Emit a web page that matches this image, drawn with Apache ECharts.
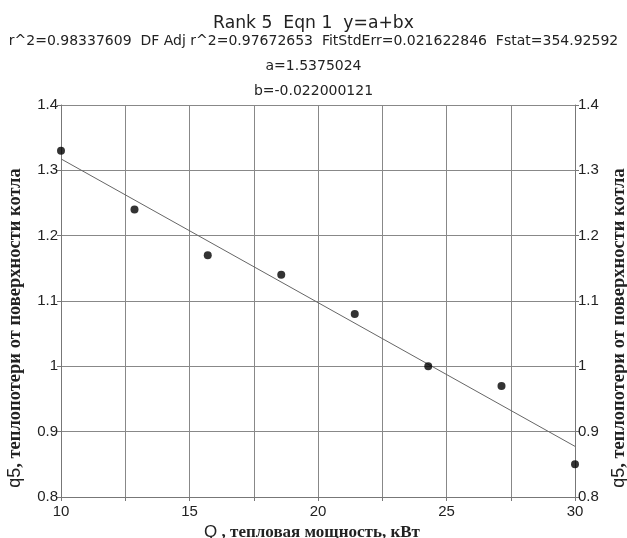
<!DOCTYPE html>
<html>
<head>
<meta charset="utf-8">
<script src="https://cdn.jsdelivr.net/npm/echarts@6/dist/echarts.min.js"></script>
<style>
  html, body { margin: 0; padding: 0; background: #fff; }
  #chart { width: 627px; height: 538px; }
</style>
</head>
<body>
<div id="chart"></div>
<script>
// measured points
var powerKW = [10, 12.86, 15.71, 18.57, 21.43, 24.29, 27.14, 30];
var heatLossQ5 = [1.33, 1.24, 1.17, 1.14, 1.08, 1.00, 0.97, 0.85];
// fitted line y=a+bx, end points
var fitX = [10, 30];
var fitY = [1.3175, 0.8775];
var titleLines = [
  "Rank 5  Eqn 1  y=a+bx",
  "r^2=0.98337609  DF Adj r^2=0.97672653  FitStdErr=0.021622846  Fstat=354.92592",
  "a=1.5375024",
  "b=-0.022000121"
];

var chart = echarts.init(document.getElementById("chart"));

var scatterData = powerKW.map(function (x, i) { return [x, heatLossQ5[i]]; });
var fitData = fitX.map(function (x, i) { return [x, fitY[i]]; });

var xNameRich = {
  q: { fontFamily: "Liberation Sans", fontSize: 17, color: "#222" },
  t: { fontFamily: "Liberation Serif", fontWeight: "bold", fontSize: 17, color: "#222" }
};
var yNameRich = {
  q: { fontFamily: "Liberation Sans", fontSize: 18, color: "#222" },
  t: { fontFamily: "Liberation Serif", fontWeight: "bold", fontSize: 18.5, color: "#222" }
};

var yAxisBase = {
  type: "value",
  min: 0.8,
  max: 1.4,
  interval: 0.1,
  axisLine: { show: true, lineStyle: { color: "#777", width: 1 } },
  axisTick: { show: true, length: 4, lineStyle: { color: "#777" } },
  splitLine: { show: true, lineStyle: { color: "#888", width: 1 } },
  axisLabel: {
    fontFamily: "Liberation Sans", fontSize: 15, color: "#222", margin: 3,
    formatter: function (v) { return String(Math.round(v * 10) / 10); }
  },
  name: "{q|q5}{t|, теплопотери от поверхности котла}",
  nameLocation: "middle",
  nameRotate: 90,
  nameTextStyle: { rich: yNameRich, padding: [0, 54, 0, 0] }
};

// title positions, one per line
var titleTops = [10, 29, 54, 79];

chart.setOption({
  animation: false,
  backgroundColor: "#fff",
  title: titleLines.map(function (t, i) {
    return {
      text: t,
      left: "center",
      top: titleTops[i],
      textStyle: {
        fontFamily: "DejaVu Sans",
        fontWeight: "normal",
        fontSize: i === 0 ? 17.2 : 14,
        color: "#222"
      }
    };
  }),
  grid: { left: 61, right: 52, top: 105, bottom: 41, outerBoundsMode: "none" },
  xAxis: {
    type: "value",
    min: 10,
    max: 30,
    interval: 2.5,
    axisLine: { show: true, lineStyle: { color: "#777", width: 1 } },
    axisTick: { show: true, length: 4, lineStyle: { color: "#777" } },
    splitLine: { show: true, lineStyle: { color: "#888", width: 1 } },
    axisLabel: {
      fontFamily: "Liberation Sans", fontSize: 15, color: "#222", margin: 7,
      formatter: function (v) { return v % 5 === 0 ? String(v) : ""; }
    },
    name: "{q|Q}{t| , тепловая мощность, кВт}",
    nameLocation: "middle",
    nameGap: 21,
    nameTextStyle: { rich: xNameRich, padding: [0, 12, 0, 0] }
  },
  yAxis: [
    Object.assign({}, yAxisBase, { position: "left", nameGap: 36 }),
    Object.assign({}, yAxisBase, { position: "right", nameGap: 23 })
  ],
  series: [
    {
      type: "line",
      data: fitData,
      symbol: "none",
      lineStyle: { color: "#666", width: 1 },
      z: 2
    },
    {
      type: "scatter",
      data: scatterData,
      symbolSize: 8,
      itemStyle: { color: "#000" },
      z: 3
    }
  ]
});
</script>
</body>
</html>
